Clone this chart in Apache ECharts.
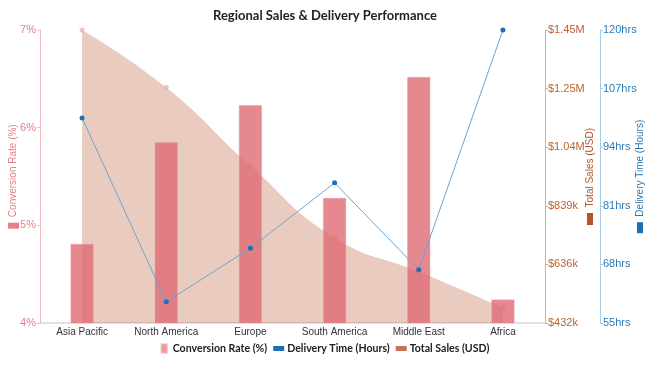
<!DOCTYPE html>
<html><head><meta charset="utf-8">
<script src="https://cdn.jsdelivr.net/npm/echarts@6/dist/echarts.min.js"></script>
<style>html,body{margin:0;padding:0;background:#fff}#c{width:650px;height:368px}</style>
</head><body><div id="c"></div>
<script>
const categories = ['Asia Pacific','North America','Europe','South America','Middle East','Africa'];
const conversionRate = [4.81, 5.85, 6.23, 5.28, 6.52, 4.24];
const deliveryHours = [100.5, 59.7, 71.6, 86.1, 66.8, 120];
const totalSales = [1450000, 1250000, 978000, 728000, 610000, 485000];
const salesTicks = [432000, 635600, 839200, 1042800, 1246400, 1450000];
const deliveryTicks = [55, 68, 81, 94, 107, 120];

const C_PINK = '#de6a74', C_BLUE = '#1f6fb5', C_BROWN = '#b5532a';
const nameFont = 'Liberation Sans';
const boldFont = 'Lato';
function fmtSales(v){ return v >= 1e6 ? '$' + (v/1e6).toFixed(2) + 'M' : '$' + Math.round(v/1000) + 'k'; }

const chart = echarts.init(document.getElementById('c'), null, {renderer:'canvas'});
chart.setOption({
  animation:false,
  title:{text:'Regional Sales & Delivery Performance', left:'center', top:4,
    textStyle:{fontFamily:boldFont, fontWeight:'bold', fontSize:13, color:'#222'}},
  legend:{bottom:9, left:'center', itemGap:6, itemWidth:11, itemHeight:8,
    textStyle:{fontFamily:boldFont, fontWeight:'bold', fontSize:10.6, color:'#222', padding:[0,0,0,-2]},
    data:[
      {name:'Conversion Rate (%)', icon:'path://M0,0H5V8H0Z', itemStyle:{color:'#e57f88'}},
      {name:'Delivery Time (Hours)', icon:'path://M0,0H11V5H0Z'},
      {name:'Total Sales (USD)', icon:'path://M0,0H11V5H0Z', itemStyle:{color:C_BROWN}}
    ]},
  grid:{left:40, right:105, top:30, bottom:45, outerBoundsMode:'none', containLabel:false},
  xAxis:{type:'category', data:categories, boundaryGap:true,
    axisLine:{lineStyle:{color:'#d9d9d9', width:1.5}}, axisTick:{show:false},
    axisLabel:{interval:0, fontFamily:nameFont, fontSize:10, color:'#333', margin:4}},
  yAxis:[
    {type:'value', min:4, max:7, interval:1, position:'left',
     name:'{i|}  Conversion Rate (%)', nameLocation:'middle', nameGap:21, nameMoveOverlap:false,
     nameTextStyle:{fontFamily:nameFont, fontSize:10, color:'#e57f88',
       rich:{i:{width:6, height:11, backgroundColor:'#e57f88'}}},
     axisLine:{show:true, lineStyle:{color:'#f2b8bd'}}, axisTick:{show:true, length:3, lineStyle:{color:'#f2b8bd'}},
     splitLine:{show:false},
     axisLabel:{formatter:'{value}%', fontFamily:nameFont, fontSize:11, color:'#e57f88', margin:4}},
    {type:'value', min:432000, max:1450000, position:'right',
     name:'{i|}  Total Sales (USD)', nameLocation:'middle', nameGap:40, nameMoveOverlap:false,
     nameTextStyle:{fontFamily:nameFont, fontSize:10, color:C_BROWN,
       rich:{i:{width:12, height:6, backgroundColor:C_BROWN}}},
     axisLine:{show:true, lineStyle:{color:'#e3a98c'}},
     axisTick:{show:true, length:3, customValues:salesTicks, lineStyle:{color:'#e3a98c'}},
     splitLine:{show:false},
     axisLabel:{customValues:salesTicks, formatter:fmtSales, fontFamily:nameFont, fontSize:11, color:'#c0602f', margin:3}},
    {type:'value', min:55, max:120, position:'right', offset:55,
     name:'{i|}  Delivery Time (Hours)', nameLocation:'middle', nameGap:35, nameMoveOverlap:false,
     nameTextStyle:{fontFamily:nameFont, fontSize:10, color:'#2c7bb6',
       rich:{i:{width:11, height:6, backgroundColor:C_BLUE}}},
     axisLine:{show:true, lineStyle:{color:'#a9cbe6'}},
     axisTick:{show:true, length:3, customValues:deliveryTicks, lineStyle:{color:'#a9cbe6'}},
     splitLine:{show:false},
     axisLabel:{customValues:deliveryTicks, formatter:'{value}hrs', fontFamily:nameFont, fontSize:11, color:'#2c7bb6', margin:3}}
  ],
  series:[
    {name:'Total Sales (USD)', type:'line', yAxisIndex:1, data:totalSales, smooth:true, z:1,
     symbol:'circle', symbolSize:5, lineStyle:{width:0},
     itemStyle:{color:'#e9b9ad', opacity:0.8},
     areaStyle:{color:C_BROWN, opacity:0.3}},
    {name:'Conversion Rate (%)', type:'bar', yAxisIndex:0, data:conversionRate, barWidth:23, z:2,
     itemStyle:{color:C_PINK, opacity:0.8, borderColor:'#f0a0a8', borderWidth:0.5}},
    {name:'Delivery Time (Hours)', type:'line', yAxisIndex:2, data:deliveryHours, z:3,
     symbol:'circle', symbolSize:5, showAllSymbol:true,
     lineStyle:{width:1, color:'#6ea3d0'}, itemStyle:{color:C_BLUE}}
  ]
});
</script></body></html>
